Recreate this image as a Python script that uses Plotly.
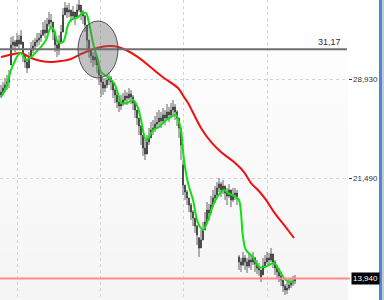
import plotly.graph_objects as go

# ---- data ----
opens = [27.73,27.95,28.25,28.48,28.70,29.98,31.49,31.71,31.41,31.86,
         31.56,31.71,30.73,30.21,29.76,30.51,31.11,31.41,31.71,31.86,
         32.01,32.24,32.61,32.39,33.06,33.36,33.21,32.46,31.49,31.11,
         31.71,32.46,33.74,34.27,33.97,34.12,33.67,33.97,33.52,34.12,
         34.49,33.97,33.67,32.99,31.86,31.11,30.66,30.36,30.58,29.98,
         29.23,28.70,28.25,28.48,28.86,29.01,28.70,28.10,27.73,27.20,
         26.90,27.05,27.35,27.65,27.50,27.80,27.58,27.13,26.60,26.00,
         25.40,24.72,23.74,23.29,24.20,24.50,25.10,25.25,25.55,25.70,
         26.00,25.77,26.23,26.00,26.45,26.23,26.60,26.83,26.45,26.00,
         25.25,22.47,20.96,20.44,19.99,19.46,18.93,18.48,17.88,17.00,
         16.23,16.83,17.58,18.18,19.08,18.86,19.46,19.99,20.21,20.74,
         21.04,20.59,20.89,20.36,20.14,20.59,19.84,20.21,20.36,15.55,
         15.18,14.95,15.48,15.18,14.88,15.33,15.18,15.48,15.03,14.73,
         14.58,14.20,14.88,15.18,15.48,15.33,15.78,15.18,14.73,14.43,
         14.13,13.82,13.37,13.07,13.22,13.45,13.60,13.75]
highs = [28.48,28.70,29.01,29.23,29.61,32.09,32.16,31.86,32.39,32.24,
         32.61,31.26,30.73,30.51,30.96,31.71,31.86,32.01,32.39,32.39,
         32.61,33.21,33.36,33.52,33.97,33.82,32.99,32.01,31.86,32.24,
         32.99,34.27,34.72,34.49,34.64,34.12,34.42,33.97,34.57,34.87,
         34.49,34.12,33.74,32.76,31.86,31.11,30.96,31.11,30.51,29.76,
         29.23,29.01,29.01,29.23,29.46,29.16,28.63,28.25,27.95,27.50,
         27.73,27.88,28.10,27.95,28.25,28.10,27.73,27.20,26.60,26.00,
         25.47,24.50,24.35,24.72,25.25,25.70,25.85,26.15,26.45,26.60,
         26.45,26.75,26.60,27.05,26.83,27.13,27.35,27.05,26.60,26.00,
         25.10,22.84,20.96,20.59,19.99,19.61,19.08,18.48,17.96,16.98,
         17.58,18.18,18.93,19.69,19.54,20.14,20.59,20.89,21.19,21.49,
         21.19,21.34,20.89,20.74,21.04,20.44,20.74,20.74,20.59,15.70,
         15.48,15.93,15.70,15.48,15.78,15.70,15.93,15.55,15.33,15.10,
         14.58,15.48,15.70,15.93,15.85,16.23,15.70,15.33,14.95,14.73,
         14.43,13.82,13.52,13.67,13.90,13.98,14.13,14.20]
lows = [27.50,27.73,27.95,28.10,28.25,30.36,31.11,30.96,31.34,31.11,
        31.49,30.21,29.76,29.38,29.98,30.73,30.88,31.11,31.34,31.49,
        31.71,32.16,32.01,32.61,32.84,32.61,31.86,30.96,30.58,30.73,
        31.86,33.21,33.74,33.52,33.59,33.21,33.36,32.99,33.52,33.97,
        33.36,33.06,32.46,31.11,30.51,30.13,29.83,29.98,29.38,28.48,
        27.58,27.73,27.95,28.25,28.48,28.10,27.50,27.13,26.75,26.45,
        26.60,26.90,27.13,26.98,27.35,27.05,26.60,26.00,25.47,24.72,
        23.97,23.14,22.84,23.59,23.97,24.50,24.72,24.95,25.25,25.40,
        25.25,25.70,25.47,25.85,25.70,26.00,26.23,25.85,25.40,24.50,
        22.84,20.21,19.84,19.46,18.93,18.33,17.88,17.36,16.45,15.55,
        16.23,16.83,17.58,18.33,18.33,18.93,19.31,19.61,20.14,20.44,
        20.06,20.29,19.84,19.46,19.99,19.31,19.69,19.84,19.46,14.58,
        14.43,14.88,14.58,14.35,14.73,14.58,14.95,14.43,14.27,14.13,
        13.67,14.43,14.73,15.03,14.88,15.18,14.73,14.20,13.98,13.67,
        13.37,12.92,12.70,12.77,13.07,13.22,13.37,13.52]
closes = [27.95,28.25,28.48,28.70,29.01,31.49,31.71,31.41,31.86,31.56,
          32.16,30.73,30.21,29.76,30.51,31.11,31.41,31.71,31.86,32.01,
          32.24,32.61,32.39,33.06,33.36,33.21,32.46,31.49,31.11,31.71,
          32.46,33.74,34.27,33.97,34.12,33.67,33.97,33.52,34.12,34.49,
          33.97,33.67,32.99,31.86,31.11,30.66,30.36,30.58,29.98,29.23,
          28.70,28.25,28.48,28.86,29.01,28.70,28.10,27.73,27.20,26.90,
          27.05,27.35,27.65,27.50,27.80,27.58,27.13,26.60,26.00,25.40,
          24.72,23.74,23.29,24.20,24.50,25.10,25.25,25.55,25.70,26.00,
          25.77,26.23,26.00,26.45,26.23,26.60,26.83,26.45,26.00,25.25,
          23.97,20.96,20.44,19.99,19.46,18.93,18.48,17.88,17.21,16.23,
          16.83,17.58,18.18,19.08,18.86,19.46,19.99,20.21,20.74,21.04,
          20.59,20.89,20.36,20.14,20.59,19.84,20.21,20.36,19.99,15.18,
          14.95,15.48,15.18,14.88,15.33,15.18,15.48,15.03,14.73,14.58,
          14.05,14.88,15.18,15.48,15.33,15.78,15.18,14.73,14.43,14.13,
          13.82,13.37,13.07,13.22,13.45,13.60,13.75,13.90]

fast_x = [0,2.5,5,6.5,8.5,10,12.5,15,17.5,20,22.5,25,26.5,28.5,31,33.5,35,38.5,41,42.5,
          44,46.5,48.5,50,53.5,56.5,59,60,63,66,68.5,70,72.5,74,76,79,81.5,85,87.5,89,
          90,91.5,93.5,96,98.5,101,103.5,106.5,110,111.5,113.5,117.5,119,121,122.5,126,129,131.5,134,136.5,
          139,141.5,144,146.5]
fast_ma = [27.58,28.25,29.61,30.13,30.73,30.88,30.36,30.58,30.96,31.34,31.86,32.84,32.61,31.71,31.71,32.99,33.36,33.59,33.89,33.89,
           33.14,31.34,30.36,29.46,29.08,28.63,27.58,27.13,27.13,27.35,26.75,25.85,24.35,24.57,25.10,25.32,25.70,26.08,26.23,25.70,
           25.10,22.84,21.11,19.84,18.11,17.58,18.33,19.61,20.44,20.59,20.36,20.06,19.84,17.06,16.08,15.55,14.80,14.80,14.95,15.10,
           14.58,13.98,13.67,13.67]

slow_x = [0,6.5,10,15,20,25,30,35,40,45,50,55,58.5,62.5,68.5,76.5,81.5,88.5,91.5,93.5,
          100,105,110,116.5,121.5,125,128.5,132.5,136.5,141.5,146.5]
slow_ma = [30.58,30.81,30.88,30.51,30.28,30.21,30.28,30.43,30.81,31.11,31.34,31.41,31.34,31.11,30.58,29.61,29.01,28.25,27.58,27.13,
           25.25,24.20,23.44,22.69,21.94,21.11,20.59,19.84,18.93,17.96,16.98]

axis_vals = [28.93, 21.49]
axis_text = ["28,930", "21,490"]
level_line = 31.17
level_text = "31,17"
last_price = 13.94
last_text = "13,940"
grid_x = [8, 49.5, 91, 133]
circle_x = [38.5, 58.5]
circle_y = [29.01, 33.29]

# ---- figure ----
fig = go.Figure()

fig.add_trace(go.Candlestick(
    x=list(range(len(closes))), open=opens, high=highs, low=lows, close=closes,
    increasing=dict(line=dict(color="#404040", width=0.8), fillcolor="#000000"),
    decreasing=dict(line=dict(color="#404040", width=0.8), fillcolor="#000000"),
    whiskerwidth=0, hoverinfo="skip"))

fig.add_trace(go.Scatter(x=slow_x, y=slow_ma, mode="lines",
                         line=dict(color="#f01010", width=2, shape="spline"), hoverinfo="skip"))
fig.add_trace(go.Scatter(x=fast_x, y=fast_ma, mode="lines",
                         line=dict(color="#10e010", width=2, shape="spline"), hoverinfo="skip"))

# background gradient bands
n = 12
for k in range(n):
    g = 255 - int(round(10 * k / (n - 1)))
    fig.add_shape(type="rect", xref="paper", yref="paper", x0=0, x1=1,
                  y0=1 - (k + 1) / n, y1=1 - k / n, line_width=0,
                  fillcolor=f"rgb({g},{g},{g})", layer="below")

# horizontal level line
fig.add_shape(type="line", xref="paper", yref="y", x0=0, x1=0.997,
              y0=level_line, y1=level_line, line=dict(color="#707070", width=2))
# last price line
fig.add_shape(type="line", xref="paper", yref="y", x0=0, x1=1.006,
              y0=last_price, y1=last_price, line=dict(color="#ff8c8c", width=2))
# circle
fig.add_shape(type="circle", xref="x", yref="y", x0=circle_x[0], x1=circle_x[1],
              y0=circle_y[0], y1=circle_y[1],
              fillcolor="rgba(110,110,110,0.42)", line=dict(color="#505050", width=1))
# right blue border
fig.add_shape(type="rect", xref="paper", yref="paper", x0=1.089, x1=1.098, y0=0, y1=1,
              fillcolor="#4a86e0", line_width=0)
fig.add_shape(type="rect", xref="paper", yref="paper", x0=1.098, x1=1.11, y0=0, y1=1,
              fillcolor="#c8c8c8", line_width=0)

# y-axis labels
for v, t in zip(axis_vals, axis_text):
    fig.add_annotation(xref="paper", yref="y", x=1.0, y=v, text=t, showarrow=False,
                       xanchor="left", yanchor="middle", xshift=3,
                       font=dict(family="Liberation Sans", size=8, color="#333333"))

fig.add_annotation(xref="paper", yref="y", x=0.985, y=level_line, text=level_text,
                   showarrow=False, xanchor="right", yanchor="bottom", yshift=0,
                   font=dict(family="Liberation Sans", size=9, color="#402a40"))
fig.add_annotation(xref="paper", yref="y", x=1.0, y=last_price, text=last_text,
                   showarrow=False, xanchor="left", yanchor="middle", xshift=3,
                   bgcolor="#000000", borderpad=1,
                   font=dict(family="Liberation Sans", size=8, color="#ffffff"))

fig.update_layout(
    width=384, height=300,
    margin=dict(l=0, r=36, t=0, b=0),
    paper_bgcolor="#ffffff", plot_bgcolor="#ffffff",
    showlegend=False, hovermode=False,
    xaxis=dict(range=[-0.5, 173.5], rangeslider=dict(visible=False),
               tickvals=grid_x, showticklabels=False, ticks="",
               showgrid=True, gridcolor="#d4d4d4", griddash="dot", gridwidth=1,
               zeroline=False, showline=False, layer="below traces"),
    yaxis=dict(range=[12.32, 34.87], side="right", tickvals=axis_vals,
               showticklabels=False,
               ticks="outside", ticklen=3, tickcolor="#333333", tickwidth=1,
               showgrid=True, gridcolor="#d4d4d4", griddash="dot", gridwidth=1,
               zeroline=False, showline=False),
)

fig.write_html("out.html")
